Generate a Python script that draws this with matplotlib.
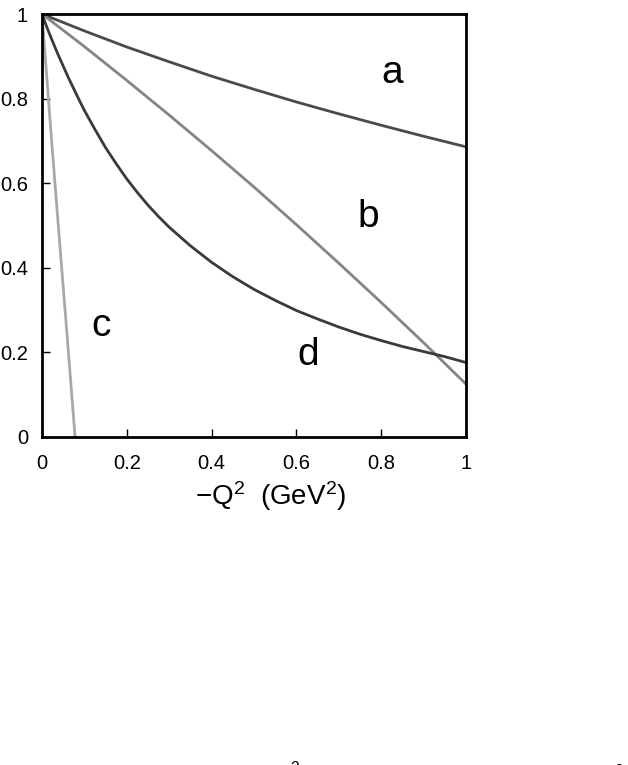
import matplotlib
matplotlib.use("Agg")
import matplotlib.pyplot as plt
import numpy as np

plt.rcParams['font.family'] = ['Liberation Sans', 'DejaVu Sans']
plt.rcParams['mathtext.fontset'] = 'custom'
plt.rcParams['mathtext.rm'] = 'Liberation Sans'
plt.rcParams['mathtext.it'] = 'Liberation Sans'

# data
q2_a = [0.0, 0.1, 0.2, 0.3, 0.4, 0.5, 0.6, 0.7, 0.8, 0.9, 1.0]
f_a = [1.0, 0.960, 0.922, 0.887, 0.853, 0.822, 0.792, 0.764, 0.737, 0.711, 0.686]

q2_b = [0.0, 0.1, 0.2, 0.3, 0.4, 0.5, 0.6, 0.7, 0.8, 0.9, 1.0]
f_b = [1.0, 0.923, 0.843, 0.761, 0.677, 0.591, 0.502, 0.411, 0.318, 0.223, 0.125]

q2_c = [0.0, 0.02, 0.04, 0.06, 0.078]
f_c = [1.0, 0.735, 0.48, 0.23, 0.0]

q2_d = [0.0, 0.0125, 0.025, 0.0375, 0.05, 0.0625, 0.075, 0.0875, 0.1, 0.125, 0.15, 0.175,
        0.2, 0.225, 0.25, 0.275, 0.3, 0.35, 0.4, 0.45, 0.5, 0.55, 0.6, 0.65, 0.7, 0.75,
        0.8, 0.85, 0.9, 0.95, 1.0]
f_d = [1.0, 0.966, 0.935, 0.905, 0.877, 0.849, 0.823, 0.797, 0.772, 0.727, 0.684, 0.646,
       0.610, 0.578, 0.548, 0.521, 0.496, 0.452, 0.413, 0.379, 0.349, 0.323, 0.299, 0.279,
       0.260, 0.243, 0.228, 0.214, 0.202, 0.190, 0.176]

labels = ['a', 'b', 'c', 'd']
label_pos = [(0.825, 0.861), (0.769, 0.52), (0.139, 0.262), (0.627, 0.194)]

xticks = [0, 0.2, 0.4, 0.6, 0.8, 1]
xticklabels = ['0', '0.2', '0.4', '0.6', '0.8', '1']
yticks = [0, 0.2, 0.4, 0.6, 0.8, 1]
yticklabels = ['0', '0.2', '0.4', '0.6', '0.8', '1']

fig = plt.figure(figsize=(6.28, 7.65), dpi=100)
ax = fig.add_axes([42/628, 1-437/765, 424/628, 423/765])

ax.plot(q2_a, f_a, color='#4a4a4a', lw=2.0)
ax.plot(q2_b, f_b, color='#858585', lw=2.0)
ax.plot(q2_c, f_c, color='#a8a8a8', lw=2.0)
ax.plot(q2_d, f_d, color='#3a3a3a', lw=2.0)

for t, (x, y) in zip(labels, label_pos):
    ax.text(x, y, t, fontsize=28, ha='center', va='center', color='black')

ax.set_xlim(0, 1)
ax.set_ylim(0, 1)
ax.set_xticks(xticks)
ax.set_xticklabels(xticklabels)
ax.set_yticks(yticks)
ax.set_yticklabels(yticklabels)
ax.tick_params(direction='in', length=6, width=1, labelsize=14.5, colors='black')
ax.tick_params(axis='x', pad=12)
ax.tick_params(axis='y', pad=10)
for s in ax.spines.values():
    s.set_linewidth(2)
    s.set_color('black')

ax.set_xlabel(r'$-$Q$^2$  (GeV$^2$)', fontsize=20, labelpad=8)
ax.xaxis.set_label_coords(0.54, -0.1)

fig.text(0.455, -0.013, r'$(Q^2)$', fontsize=16, ha='center', va='center')
fig.text(0.985, -0.013, r'$^2$', fontsize=16, ha='center', va='center')

fig.savefig('out.png', dpi=100)
